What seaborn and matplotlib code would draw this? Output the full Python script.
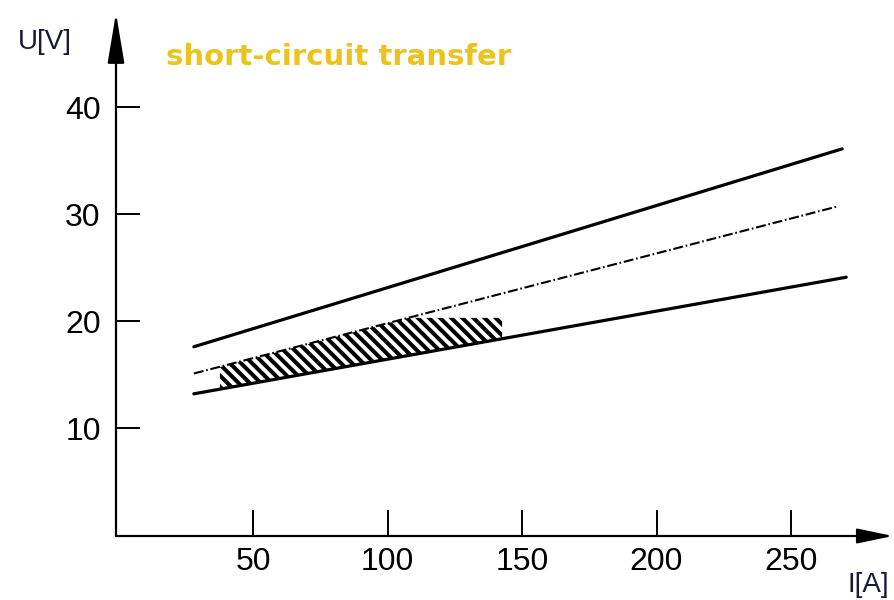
import numpy as np
import pandas as pd
import matplotlib
matplotlib.use("Agg")
import matplotlib.pyplot as plt
import seaborn as sns

# ---- data ----
current_ends = [28, 269]            # I[A] at the line ends
upper_u = [17.6, 36.1]              # upper limit line
middle_u = [15.1, 30.7]             # mean (dash-dot) line
lower_ends = [28, 270.5]
lower_u = [13.2, 24.1]              # lower limit line
middle_ends = [28, 267]

hatch_i = [37.7, 107.8, 142.6]      # short-circuit transfer region
hatch_top = [15.7, 20.3, 20.3]
hatch_bottom = [13.64, 16.8, 18.36]

x_ticks = [50, 100, 150, 200, 250]
y_ticks = [10, 20, 30, 40]

title_text = "short-circuit transfer"
x_label = "I[A]"
y_label = "U[V]"

# ---- style ----
sns.set_style("white")
plt.rcParams['font.family'] = ['Liberation Sans', 'DejaVu Sans']
plt.rcParams['hatch.linewidth'] = 2.9

W, H = 894, 600
fig = plt.figure(figsize=(W / 100, H / 100), dpi=100)
left_px, right_px, bottom_px, top_px = 116, 893, 536, 13
ax = fig.add_axes([left_px / W, 1 - bottom_px / H,
                   (right_px - left_px) / W, (bottom_px - top_px) / H])
ax.set_xlim(-0.93, 287.9)
ax.set_ylim(-0.09, 48.8)

# hatched region
ax.fill_between(hatch_i, hatch_bottom, hatch_top, facecolor='none',
                edgecolor='black', hatch='\\\\\\', linewidth=0)

df_up = pd.DataFrame({"I": current_ends, "U": upper_u})
df_mid = pd.DataFrame({"I": middle_ends, "U": middle_u})
df_lo = pd.DataFrame({"I": lower_ends, "U": lower_u})
sns.lineplot(data=df_up, x="I", y="U", ax=ax, color='black', linewidth=2.3)
sns.lineplot(data=df_lo, x="I", y="U", ax=ax, color='black', linewidth=2.3)
sns.lineplot(data=df_mid, x="I", y="U", ax=ax, color='black', linewidth=1.5,
             linestyle=(0, (4.8, 1.3, 0.8, 1.3)))

# axes with arrows
for s in ax.spines.values():
    s.set_visible(False)
ax.annotate('', xy=(0, 1), xytext=(0, 0), xycoords='axes fraction',
            arrowprops=dict(arrowstyle='-|>,head_length=31,head_width=5.2',
                            mutation_scale=1, color='black', lw=1.6,
                            shrinkA=0, shrinkB=0))
ax.annotate('', xy=(1, 0), xytext=(0, 0), xycoords='axes fraction',
            arrowprops=dict(arrowstyle='-|>,head_length=22,head_width=4.6',
                            mutation_scale=1, color='black', lw=1.6,
                            shrinkA=0, shrinkB=0))

ax.set_xticks(x_ticks)
ax.set_yticks(y_ticks)
ax.set_xticklabels([str(t) for t in x_ticks])
ax.set_yticklabels([str(t) for t in y_ticks])
ax.tick_params(axis='x', direction='in', length=18.5, width=1.4, pad=8,
               labelsize=23, colors='black', bottom=True)
ax.tick_params(axis='y', direction='in', length=17, width=1.4, pad=11,
               labelsize=23, colors='black', left=True)
ax.set_xlabel('')
ax.set_ylabel('')

fig.text(18 / W, 1 - 42 / H, y_label, fontsize=20, color='#1a1a36',
         ha='left', va='center')
fig.text(848 / W, 1 - 585 / H, x_label, fontsize=20, color='#1a1a36',
         ha='left', va='center')
fig.text(166 / W, 1 - 57 / H, title_text, fontsize=21, fontweight='bold',
         color='#EBC31E', ha='left', va='center',
         family=['DejaVu Sans'])

fig.savefig("out.png", dpi=100)
